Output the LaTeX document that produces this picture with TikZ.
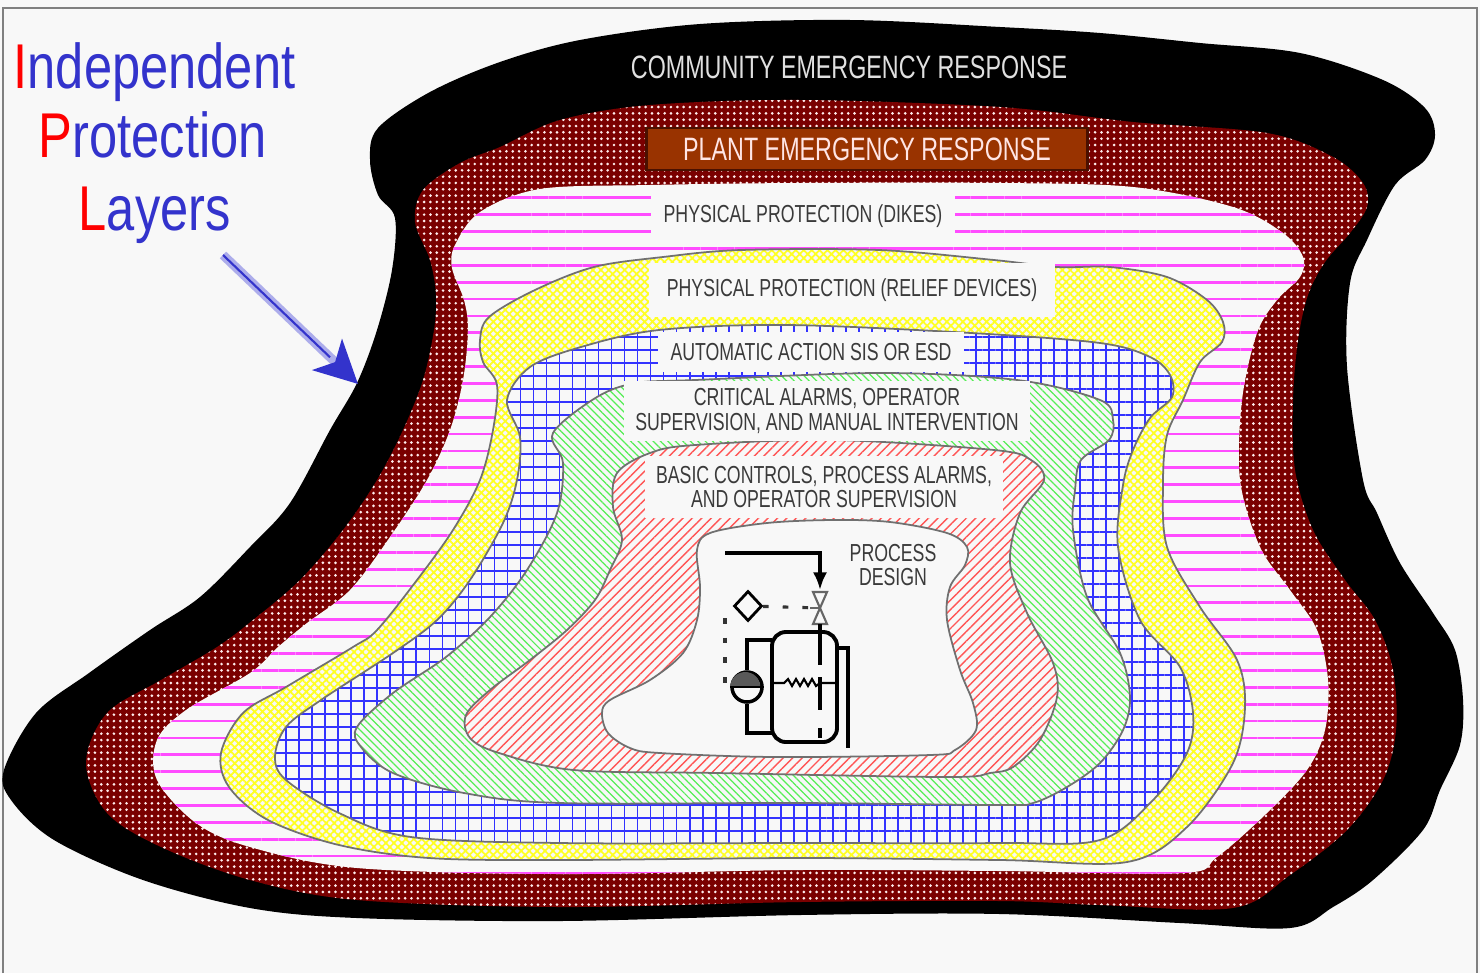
\documentclass[tikz,border=0pt]{standalone}
\usepackage{fontspec}
\usetikzlibrary{patterns.meta,arrows.meta,shapes.geometric}
\newfontfamily\titlefont[FakeStretch=0.8]{Liberation Sans}
\newfontfamily\layerfont[FakeStretch=0.72]{Liberation Sans}
\definecolor{paper}{HTML}{F8F8F8}
\definecolor{titleblue}{HTML}{3333CC}
\definecolor{titlered}{HTML}{FF0000}
\definecolor{plantred}{HTML}{7A0000}
\definecolor{plantbox}{HTML}{993300}
\definecolor{plantedge}{HTML}{4A1000}
\definecolor{dikepink}{HTML}{FF4CFF}
\definecolor{reliefyellow}{HTML}{FFFF22}
\definecolor{sisblue}{HTML}{3333FF}
\definecolor{alarmgreen}{HTML}{55EE55}
\definecolor{basicred}{HTML}{FF5555}
\definecolor{edge}{HTML}{707070}
\definecolor{labelgray}{HTML}{3A3A3A}

\begin{document}
\begin{tikzpicture}[x=0.01cm,y=-0.01cm,
  zone/.style={draw=edge,line width=0.5pt,preaction={fill=paper}},
  communityzone/.style={fill=black},
  plantzone/.style={preaction={fill=plantred},pattern={Dots[distance=1.8pt,radius=0.42pt]},pattern color=white!70!pink},
  dikezone/.style={preaction={fill=paper},pattern={Lines[distance=4.8pt,line width=0.8pt]},pattern color=dikepink},
  reliefzone/.style={zone,pattern={Hatch[angle=45,distance=1.6pt,line width=0.5pt]},pattern color=reliefyellow},
  siszone/.style={zone,pattern={Hatch[distance=3.7pt,line width=0.5pt]},pattern color=sisblue},
  alarmzone/.style={zone,pattern={Lines[angle=-45,distance=1.5pt,line width=0.35pt]},pattern color=alarmgreen},
  basiczone/.style={zone,pattern={Lines[angle=45,distance=1.9pt,line width=0.4pt]},pattern color=basicred},
  designzone/.style={zone,fill=paper},
  labelbox/.style={fill=paper,inner sep=0pt,align=center,text=labelgray,font=\layerfont\fontsize{7}{7.1}\selectfont},
  titleline/.style={anchor=base west,inner sep=0pt,text=titleblue,font=\titlefont\fontsize{18}{20}\selectfont},
  pipe/.style={line width=1.1pt,black},
  signal/.style={line width=0.9pt,black!80,dash pattern=on 1.6pt off 4pt}]

\fill[paper] (0,0) rectangle (1480,973);
\draw[black!50,line width=0.7pt] (3,973) -- (3,8) -- (1477,8) -- (1477,973);

% layers, outside in
\path[communityzone] plot[smooth cycle,tension=0.55] coordinates {(370,160) (378,128) (430,92) (500,62) (580,40) (700,24) (850,20) (1000,27) (1100,33) (1200,43) (1300,53) (1383,80) (1425,108) (1435,135) (1425,160) (1395,185) (1367,240) (1350,283) (1347,367) (1363,480) (1377,513) (1400,563) (1433,613) (1455,650) (1463,700) (1460,745) (1440,790) (1423,830) (1373,880) (1333,907) (1290,928) (1180,923) (1000,914) (800,915) (560,921) (357,918) (250,908) (143,880) (54,840) (11,800) (4,770) (36,713) (89,673) (150,630) (200,597) (250,547) (290,503) (330,430) (357,383) (377,330) (392,270) (395,218) (378,195)};
\path[plantzone] plot[smooth cycle,tension=0.55] coordinates {(415,222) (423,190) (460,163) (500,147) (560,120) (650,105) (800,100) (1000,107) (1133,122) (1267,133) (1333,157) (1363,183) (1367,207) (1350,233) (1325,262) (1308,295) (1298,340) (1293,400) (1295,470) (1313,530) (1345,580) (1375,620) (1393,670) (1396,730) (1383,780) (1347,830) (1290,875) (1233,908) (1100,905) (1000,901) (800,902) (560,907) (357,900) (250,880) (161,847) (107,813) (86,763) (107,713) (161,680) (217,647) (253,620) (300,580) (343,530) (377,480) (403,430) (423,380) (434,330) (436,295) (430,260)};
\path[dikezone] plot[smooth cycle,tension=0.55] coordinates {(455,245) (480,212) (540,189) (650,185) (800,183) (1000,183) (1133,187) (1233,207) (1283,233) (1303,257) (1300,277) (1277,300) (1257,333) (1242,400) (1240,480) (1260,547) (1290,590) (1317,630) (1328,680) (1325,730) (1307,770) (1267,813) (1217,857) (1183,873) (1000,871) (800,870) (560,874) (357,868) (250,847) (196,823) (157,780) (157,740) (186,710) (250,673) (278,647) (307,623) (350,590) (390,537) (427,480) (450,430) (463,380) (468,330) (464,300) (452,268)};
\path[reliefzone] plot[smooth cycle,tension=0.55] coordinates {(480,340) (489,317) (535,290) (594,267) (663,257) (741,250) (879,250) (994,260) (1057,267) (1110,267) (1167,277) (1207,300) (1223,322) (1222,342) (1200,362) (1183,400) (1167,435) (1163,483) (1167,547) (1200,607) (1237,660) (1245,707) (1233,763) (1187,827) (1127,862) (1000,860) (800,858) (560,860) (429,858) (339,845) (268,820) (229,787) (221,753) (243,713) (286,687) (353,647) (377,630) (417,580) (453,530) (480,480) (493,430) (497,385) (483,362)};
\path[siszone] plot[smooth cycle,tension=0.55] coordinates {(530,367) (581,347) (659,330) (787,325) (971,333) (1100,343) (1150,357) (1170,375) (1172,397) (1150,418) (1133,450) (1123,485) (1118,547) (1140,620) (1180,667) (1193,713) (1187,753) (1153,800) (1100,840) (1000,843) (800,843) (560,843) (411,837) (339,813) (286,780) (275,757) (286,727) (321,700) (393,653) (437,620) (470,580) (503,523) (517,480) (520,437) (507,400)};
\path[alarmzone] plot[smooth cycle,tension=0.55] coordinates {(553,433) (597,397) (636,383) (695,380) (879,373) (1017,380) (1100,400) (1113,420) (1109,440) (1081,460) (1075,490) (1073,530) (1087,597) (1120,653) (1130,697) (1123,730) (1100,763) (1067,787) (1033,803) (1000,805) (800,803) (560,803) (464,793) (393,773) (361,747) (357,727) (393,693) (446,657) (490,617) (527,570) (557,513) (563,463)};
\path[basiczone] plot[smooth cycle,tension=0.55] coordinates {(617,473) (650,453) (695,445) (833,440) (994,450) (1031,460) (1044,480) (1020,513) (1010,563) (1027,613) (1053,663) (1057,697) (1040,740) (1013,767) (990,773) (947,777) (717,773) (574,770) (499,753) (470,738) (466,715) (490,690) (530,660) (567,630) (595,600) (610,570) (622,540) (613,507)};
\path[designzone] plot[smooth cycle,tension=0.55] coordinates {(697,550) (710,533) (767,523) (833,520) (890,522) (947,533) (967,547) (965,565) (950,587) (947,620) (960,670) (973,703) (976,730) (955,750) (930,755) (775,757) (660,753) (630,748) (608,733) (602,713) (610,700) (650,680) (683,653) (697,620) (700,587)};

% layer labels
\node[font=\layerfont\fontsize{9.2}{10}\selectfont,text=white!88!black] (community) at (849,67) {COMMUNITY EMERGENCY RESPONSE};
\node[draw=plantedge,line width=0.8pt,fill=plantbox,minimum width=4.4cm,minimum height=0.42cm,inner sep=0pt,
  font=\layerfont\fontsize{9.2}{10}\selectfont,text=white!90!red] (plant) at (867,149) {PLANT EMERGENCY RESPONSE};
\node[labelbox,minimum width=3.03cm,minimum height=0.47cm] (dikes) at (803,216) {PHYSICAL PROTECTION (DIKES)};
\node[labelbox,minimum width=4.05cm,minimum height=0.54cm] (relief) at (852,290) {PHYSICAL PROTECTION (RELIEF DEVICES)};
\node[labelbox,minimum width=3.05cm,minimum height=0.40cm] (sis) at (811,352) {AUTOMATIC ACTION SIS OR ESD};
\node[labelbox,minimum width=4.05cm,minimum height=0.60cm] (alarms) at (827,411) {CRITICAL ALARMS, OPERATOR\\SUPERVISION, AND MANUAL INTERVENTION};
\node[labelbox,minimum width=3.58cm,minimum height=0.62cm] (basic) at (824,487) {BASIC CONTROLS, PROCESS ALARMS,\\AND OPERATOR SUPERVISION};
\node[labelbox,fill=none] (design) at (893,565) {PROCESS\\DESIGN};

% process design sketch
\node[draw,diamond,line width=0.8pt,minimum width=0.28cm,minimum height=0.30cm,inner sep=0pt] (ctrl) at (748,606) {};
\node[draw,circle,line width=1pt,minimum size=0.30cm,inner sep=0pt] (gauge) at (747,687) {};
\node[draw,rounded corners=0.14cm,line width=1.1pt,minimum width=0.65cm,minimum height=1.1cm,inner sep=0pt] (drum) at (804.5,687) {};
\fill[black!65] (gauge.west) arc[start angle=180,end angle=0,radius=0.15cm] -- cycle;
\draw[line width=0.8pt] (gauge.west) -- (gauge.east);
\coordinate (sigstart) at (725,553);
\coordinate (valve) at (820,608);
\coordinate (sigtap) at (725,618);
\draw[pipe,-{Latex[length=5pt,width=4pt]}] (sigstart) -| (820,590);
\draw[line width=0.6pt,black!60] (813,592) -- (827,592) -- (813,624) -- (827,624) -- cycle;
\draw[line width=0.6pt,black!60] (810,608) -- (valve);
\draw[signal,shorten >=2pt] (ctrl) -- (valve);
\draw[signal] (sigtap) |- (gauge);
\draw[pipe] (820,624) -- (820,665);
\draw[pipe] (820,677) -- (820,710);
\draw[pipe] (820,728) -- (820,738);
\draw[line width=0.6pt] (772,683) -- (784,683) -- (788,679) -- (792,686) -- (796,679) -- (800,686) -- (804,679) -- (808,686) -- (812,679) -- (816,686) -- (820,683) -- (837,683);
\draw[pipe] (772,640) -- (747,640) -- (gauge);
\draw[pipe] (gauge) -- (747,733) -- (772,733);
\draw[pipe] (837,648) -- (848,648) -- (848,748);

% title and arrow
\node[titleline] (indep) at (13,88) {\textcolor{titlered}{I}ndependent};
\node[titleline] (protect) at (38,157) {\textcolor{titlered}{P}rotection};
\node[titleline] (layers) at (78,230) {\textcolor{titlered}{L}ayers};
\coordinate (arrowtail) at (223,255);
\coordinate (arrowtip) at (358,384);
\draw[line width=2.6pt,titleblue!40,-{Stealth[length=12pt,width=12pt,inset=3pt,color=titleblue]}] (arrowtail) -- (arrowtip);
\draw[line width=0.6pt,titleblue,shorten >=11pt] (arrowtail) -- (arrowtip);
\end{tikzpicture}
\end{document}
